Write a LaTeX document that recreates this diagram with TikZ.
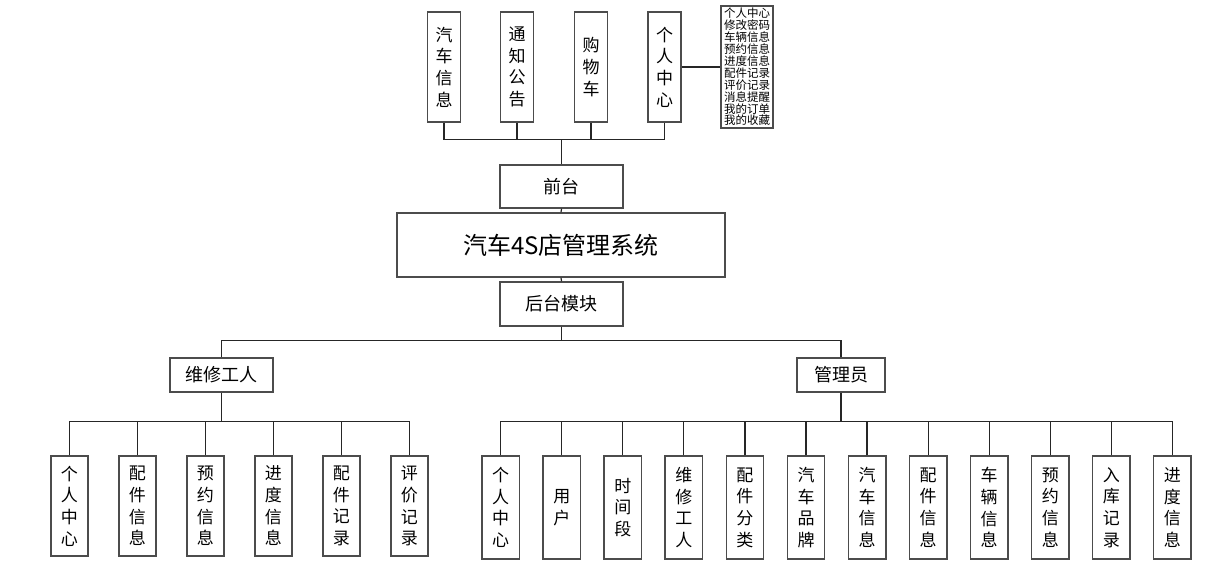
\documentclass[tikz,border=0pt]{standalone}
\usepackage{fontspec}
\setmainfont{Noto Sans CJK SC}
\begin{document}
\begin{tikzpicture}[x=1pt,y=-1pt,
  box/.style={draw=black!70,line width=1.4pt,inner sep=0pt,align=center},
  link/.style={line width=1.2pt,black!85},
  vbox/.style={box,minimum width=37pt,minimum height=100pt,font=\fontsize{17}{21.7}\selectfont},
  hbox/.style={box,minimum height=34pt,font=\fontsize{18}{22}\selectfont}]
  \useasboundingbox (0,0) rectangle (1214,571);
  % front end
  \node[vbox,minimum width=33pt,minimum height=110pt] (carinfo) at (444,67) {汽\\车\\信\\息};
  \node[vbox,minimum width=33pt,minimum height=110pt] (notice) at (517,67) {通\\知\\公\\告};
  \node[vbox,minimum width=33pt,minimum height=110pt] (cart) at (591,67) {购\\物\\车};
  \node[vbox,minimum width=33pt,minimum height=110pt] (usercenter) at (664.5,67) {个\\人\\中\\心};
  \node[box,minimum width=52pt,minimum height=122pt,font=\fontsize{11.5}{11.9}\selectfont] (menu) at (747,67)
    {个人中心\\修改密码\\车辆信息\\预约信息\\进度信息\\配件记录\\评价记录\\消息提醒\\我的订单\\我的收藏};
  \draw[link] (usercenter.east) -- (menu.west);
  \node[hbox,minimum width=123pt,minimum height=43pt] (front) at (561.5,186.5) {前台};
  \draw[link] (front.north) -- ++(0,-25) coordinate (topbus);
  \foreach \n in {carinfo,notice,cart,usercenter}
    \draw[link] (\n.south) |- (topbus);
  % system
  \node[box,minimum width=328pt,minimum height=64pt,font=\fontsize{24}{28}\selectfont] (sys) at (561,245) {汽车4S店管理系统};
  \node[hbox,minimum width=123pt,minimum height=44pt] (back) at (561.5,304) {后台模块};
  \draw[link] (front.south) -- (sys.north);
  \draw[link] (sys.south) -- (back.north);
  \draw[link] (back.south) -- ++(0,14) coordinate (midbus);
  % roles
  \node[hbox,minimum width=103pt] (worker) at (221.5,375) {维修工人};
  \node[hbox,minimum width=88pt] (admin) at (841,375) {管理员};
  \draw[link] (worker.north) |- (midbus);
  \draw[link] (admin.north) |- (midbus);
  \draw[link] (worker.south) -- ++(0,29) coordinate (wbus);
  \draw[link] (admin.south) -- ++(0,29) coordinate (abus);
  % worker pages
  \foreach \t [count=\i from 0] in {{个\\人\\中\\心},{配\\件\\信\\息},{预\\约\\信\\息},
      {进\\度\\信\\息},{配\\件\\记\\录},{评\\价\\记\\录}} {
    \node[vbox] (w\i) at (69.3+68*\i,506) {\t};
    \draw[link] (w\i.north) |- (wbus);
  }
  % admin pages
  \foreach \t [count=\i from 0] in {{个\\人\\中\\心},{用\\户},{时\\间\\段},{维\\修\\工\\人},
      {配\\件\\分\\类},{汽\\车\\品\\牌},{汽\\车\\信\\息},{配\\件\\信\\息},{车\\辆\\信\\息},
      {预\\约\\信\\息},{入\\库\\记\\录},{进\\度\\信\\息}} {
    \node[vbox,minimum width=37.5pt,minimum height=103pt] (a\i) at (500.7+61.06*\i,507.5) {\t};
    \draw[link] (a\i.north) |- (abus);
  }
\end{tikzpicture}
\end{document}
